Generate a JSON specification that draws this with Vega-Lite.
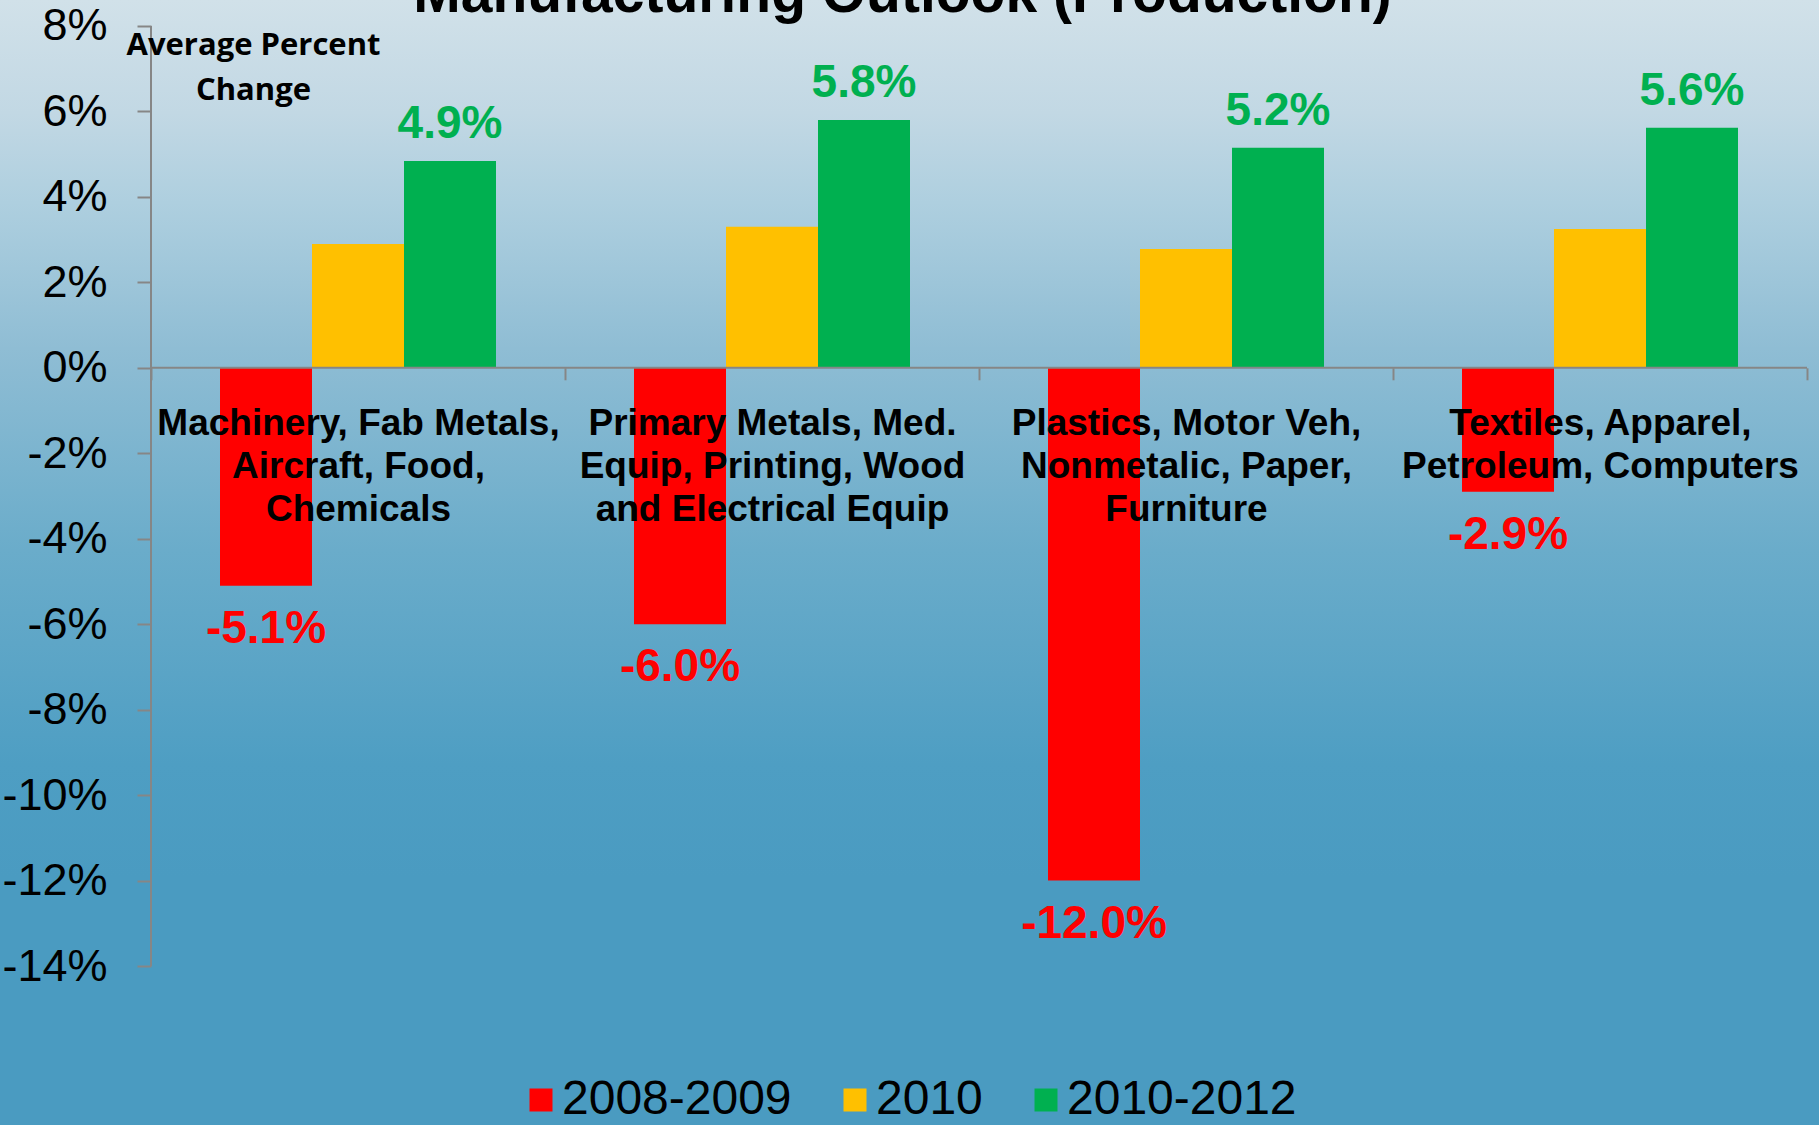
{
  "$schema": "https://vega.github.io/schema/vega-lite/v6.json",
  "width": 1819,
  "height": 1125,
  "padding": 0,
  "autosize": "none",
  "background": "#4a9bc1",
  "view": {"stroke": null},
  "title": {
    "text": "Manufacturing Outlook (Production)",
    "font": "Liberation Sans",
    "fontSize": 57,
    "fontWeight": "bold",
    "color": "#000000",
    "anchor": "middle",
    "frame": "bounds",
    "offset": 0,
    "dy": 24,
    "dx": -7
  },
  "datasets": {
    "bars": [
      {"cat": "Machinery, Fab Metals,|Aircraft, Food,|Chemicals", "series": "2008-2009", "v": -5.1, "label": "-5.1%"},
      {"cat": "Machinery, Fab Metals,|Aircraft, Food,|Chemicals", "series": "2010", "v": 2.9, "label": "2.9%"},
      {"cat": "Machinery, Fab Metals,|Aircraft, Food,|Chemicals", "series": "2010-2012", "v": 4.84, "label": "4.9%"},
      {"cat": "Primary Metals, Med.|Equip, Printing, Wood|and Electrical Equip", "series": "2008-2009", "v": -6.0, "label": "-6.0%"},
      {"cat": "Primary Metals, Med.|Equip, Printing, Wood|and Electrical Equip", "series": "2010", "v": 3.3, "label": "3.3%"},
      {"cat": "Primary Metals, Med.|Equip, Printing, Wood|and Electrical Equip", "series": "2010-2012", "v": 5.8, "label": "5.8%"},
      {"cat": "Plastics, Motor Veh,|Nonmetalic, Paper,|Furniture", "series": "2008-2009", "v": -12.0, "label": "-12.0%"},
      {"cat": "Plastics, Motor Veh,|Nonmetalic, Paper,|Furniture", "series": "2010", "v": 2.78, "label": "2.8%"},
      {"cat": "Plastics, Motor Veh,|Nonmetalic, Paper,|Furniture", "series": "2010-2012", "v": 5.15, "label": "5.2%"},
      {"cat": "Textiles, Apparel,|Petroleum, Computers", "series": "2008-2009", "v": -2.9, "label": "-2.9%"},
      {"cat": "Textiles, Apparel,|Petroleum, Computers", "series": "2010", "v": 3.25, "label": "3.2%"},
      {"cat": "Textiles, Apparel,|Petroleum, Computers", "series": "2010-2012", "v": 5.62, "label": "5.6%"}
    ],
    "cats": [
      {"cat": "Machinery, Fab Metals,|Aircraft, Food,|Chemicals", "first": true},
      {"cat": "Primary Metals, Med.|Equip, Printing, Wood|and Electrical Equip", "first": false},
      {"cat": "Plastics, Motor Veh,|Nonmetalic, Paper,|Furniture", "first": false},
      {"cat": "Textiles, Apparel,|Petroleum, Computers", "first": false}
    ],
    "bg": [{"top": 8.6085, "bottom": -17.721}]
  },
  "layer": [
    {
      "data": {"name": "bg"},
      "mark": {
        "type": "rect",
        "fill": {
          "gradient": "linear", "x1": 0, "y1": 0, "x2": 0, "y2": 1,
          "stops": [
            {"offset": 0, "color": "#d1e1e9"},
            {"offset": 0.1, "color": "#c2d8e4"},
            {"offset": 0.18, "color": "#aecfdf"},
            {"offset": 0.31, "color": "#8fbdd4"},
            {"offset": 0.49, "color": "#6aacca"},
            {"offset": 0.68, "color": "#4e9ec3"},
            {"offset": 0.78, "color": "#4a9bc1"},
            {"offset": 1, "color": "#4a9bc1"}
          ]
        }
      },
      "encoding": {
        "y": {"field": "top", "type": "quantitative"},
        "y2": {"field": "bottom"}
      }
    },
    {
      "data": {"name": "bars"},
      "mark": {"type": "bar"},
      "encoding": {
        "x": {
          "field": "cat", "type": "nominal", "sort": null,
          "scale": {"domain": ["Machinery, Fab Metals,|Aircraft, Food,|Chemicals", "Primary Metals, Med.|Equip, Printing, Wood|and Electrical Equip", "Plastics, Motor Veh,|Nonmetalic, Paper,|Furniture", "Textiles, Apparel,|Petroleum, Computers"], "paddingInner": 0, "paddingOuter": 0.19686, "align": 0.92638},
          "axis": {
            "orient": "bottom", "offset": -757.2, "title": null, "domain": false,
            "ticks": true, "tickBand": "extent", "tickSize": 12, "tickColor": "#868686", "tickWidth": 2,
            "labelFont": "Liberation Sans", "labelFontSize": 37, "labelFontWeight": "bold", "labelColor": "#000000",
            "labelPadding": 26, "labelLineHeight": 43, "labelLimit": 1000, "labelOverlap": false, "labelAngle": 0,
            "labelExpr": "isString(datum.value) ? split(datum.value, '|') : ''", "zindex": 2, "grid": false
          }
        },
        "xOffset": {
          "field": "series", "type": "nominal", "sort": null,
          "scale": {"domain": ["2008-2009", "2010", "2010-2012"], "paddingInner": 0, "paddingOuter": 0.75}
        },
        "y": {
          "field": "v", "type": "quantitative",
          "scale": {"domain": [-17.721, 8.6085], "nice": false, "zero": false},
          "axis": {
            "orient": "left", "offset": -151, "values": [-14, -12, -10, -8, -6, -4, -2, 0, 2, 4, 6, 8],
            "domain": false, "grid": false, "tickSize": 14, "tickColor": "#868686", "tickWidth": 2,
            "labelFont": "Liberation Sans", "labelFontSize": 45, "labelColor": "#000000", "labelPadding": 30,
            "labelExpr": "datum.value + '%'", "labelLimit": 500, "labelOverlap": false,
            "title": ["Average Percent", "Change"], "titleAngle": 0, "titleX": 102, "titleY": 54,
            "titleAlign": "center", "titleBaseline": "alphabetic", "titleFont": "Open Sans", "titleFontSize": 31,
            "titleFontWeight": "bold", "titleColor": "#000000", "titleLineHeight": 45, "zindex": 1
          }
        },
        "color": {
          "field": "series", "type": "nominal", "sort": null,
          "scale": {"domain": ["2008-2009", "2010", "2010-2012"], "range": ["#ff0000", "#ffc000", "#00b050"]},
          "legend": {
            "orient": "none", "legendX": 517, "legendY": 1076, "direction": "horizontal", "title": null,
            "symbolType": "square", "symbolSize": 529, "symbolStrokeWidth": 0,
            "labelFont": "Liberation Sans", "labelFontSize": 48, "labelColor": "#000000", "labelOffset": -3,
            "columnPadding": 39, "padding": 0, "labelLimit": 500
          }
        }
      }
    },
    {
      "data": {"name": "cats"},
      "mark": {"type": "rect", "fill": null, "stroke": "#868686", "strokeWidth": 2},
      "encoding": {
        "x": {"field": "cat", "type": "nominal", "sort": null},
        "y": {"datum": 0, "type": "quantitative"},
        "y2": {"datum": 0}
      }
    },
    {
      "data": {"name": "cats"},
      "transform": [{"filter": "datum.first"}],
      "mark": {"type": "rule", "color": "#868686", "strokeWidth": 2},
      "encoding": {
        "x": {"field": "cat", "type": "nominal", "sort": null, "bandPosition": 0},
        "y": {"datum": -14, "type": "quantitative"},
        "y2": {"datum": 8}
      }
    },
    {
      "data": {"name": "bars"},
      "transform": [{"filter": "datum.series == '2010-2012'"}],
      "mark": {"type": "text", "baseline": "alphabetic", "dy": -23, "font": "Liberation Sans", "fontSize": 46, "fontWeight": "bold", "color": "#00b050"},
      "encoding": {
        "x": {"field": "cat", "type": "nominal", "sort": null},
        "xOffset": {"field": "series", "type": "nominal", "sort": null},
        "y": {"field": "v", "type": "quantitative"},
        "text": {"field": "label"}
      }
    },
    {
      "data": {"name": "bars"},
      "transform": [{"filter": "datum.series == '2008-2009'"}],
      "mark": {"type": "text", "baseline": "alphabetic", "dy": 57, "font": "Liberation Sans", "fontSize": 46, "fontWeight": "bold", "color": "#ff0000"},
      "encoding": {
        "x": {"field": "cat", "type": "nominal", "sort": null},
        "xOffset": {"field": "series", "type": "nominal", "sort": null},
        "y": {"field": "v", "type": "quantitative"},
        "text": {"field": "label"}
      }
    }
  ]
}
